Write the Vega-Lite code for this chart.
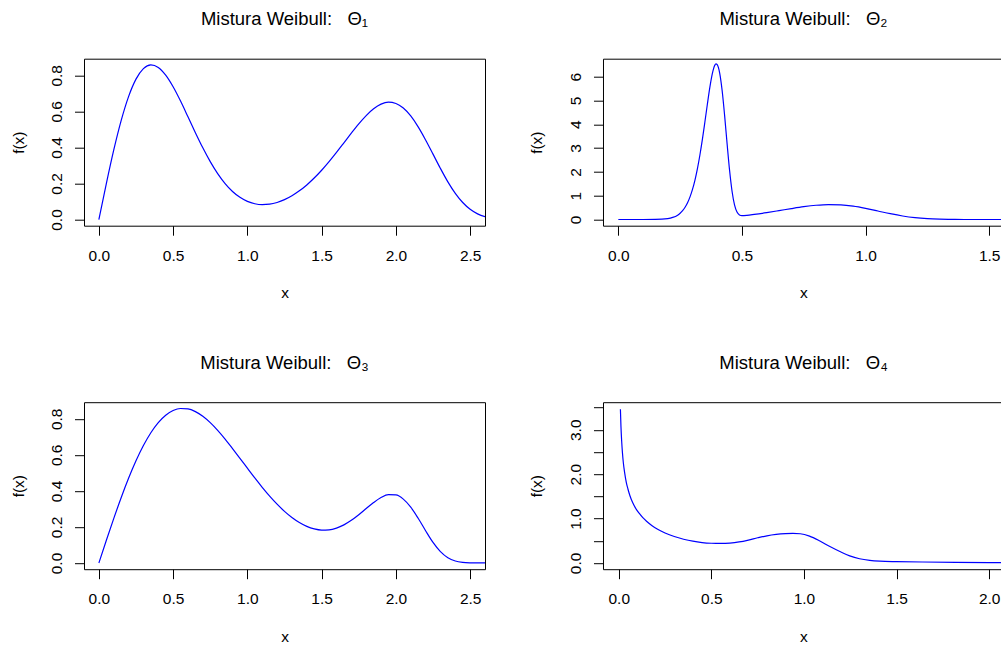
{
  "$schema": "https://vega.github.io/schema/vega-lite/v6.json",
  "background": "white",
  "padding": {"left": 10, "top": 9.7, "right": 0, "bottom": 0},
  "config": {
    "font": "Liberation Sans",
    "view": {"stroke": "#000000", "strokeWidth": 1},
    "axis": {
      "domain": false,
      "grid": false,
      "ticks": true,
      "tickSize": 9.5,
      "tickColor": "#000000",
      "tickWidth": 1,
      "labelFont": "Liberation Sans",
      "labelFontSize": 15.5,
      "labelColor": "#000000",
      "labelFlush": false,
      "labelOverlap": false,
      "titleFont": "Liberation Sans",
      "titleFontSize": 15.5,
      "titleFontWeight": "normal",
      "titleColor": "#000000"
    },
    "axisX": {
      "labelBaseline": "alphabetic",
      "labelPadding": 25,
      "titleBaseline": "alphabetic",
      "titleY": 72,
      "titleAlign": "center"
    },
    "axisY": {
      "labelAngle": -90,
      "labelAlign": "center",
      "labelBaseline": "alphabetic",
      "labelPadding": 13,
      "titleAngle": -90,
      "titleBaseline": "alphabetic",
      "titleAlign": "center",
      "titleX": -61,
      "titleY": 83.5
    },
    "title": {
      "font": "Liberation Sans",
      "fontSize": 18.5,
      "fontWeight": "normal",
      "color": "#000000",
      "anchor": "middle",
      "frame": "group",
      "baseline": "alphabetic",
      "offset": 29.8
    }
  },
  "datasets": {
    "p1": [
      {"x": 0, "y": 0}, {"x": 0.05, "y": 0.198}, {"x": 0.1, "y": 0.3843}, {"x": 0.15, "y": 0.5483},
      {"x": 0.2, "y": 0.6817}, {"x": 0.25, "y": 0.7788}, {"x": 0.3, "y": 0.8372}, {"x": 0.35, "y": 0.8577},
      {"x": 0.4, "y": 0.8437}, {"x": 0.45, "y": 0.8008}, {"x": 0.5, "y": 0.7362}, {"x": 0.55, "y": 0.6569},
      {"x": 0.6, "y": 0.5699}, {"x": 0.65, "y": 0.4818}, {"x": 0.7, "y": 0.3976}, {"x": 0.75, "y": 0.3211},
      {"x": 0.8, "y": 0.2546}, {"x": 0.85, "y": 0.1993}, {"x": 0.9, "y": 0.1555}, {"x": 0.95, "y": 0.1229},
      {"x": 1.0, "y": 0.1004}, {"x": 1.05, "y": 0.0873}, {"x": 1.1, "y": 0.0825}, {"x": 1.15, "y": 0.0851},
      {"x": 1.2, "y": 0.0945}, {"x": 1.25, "y": 0.1101}, {"x": 1.3, "y": 0.1317}, {"x": 1.35, "y": 0.159},
      {"x": 1.4, "y": 0.1918}, {"x": 1.45, "y": 0.23}, {"x": 1.5, "y": 0.2733}, {"x": 1.55, "y": 0.321},
      {"x": 1.6, "y": 0.3722}, {"x": 1.65, "y": 0.4254}, {"x": 1.7, "y": 0.479}, {"x": 1.75, "y": 0.5303},
      {"x": 1.8, "y": 0.5764}, {"x": 1.85, "y": 0.6141}, {"x": 1.9, "y": 0.6399}, {"x": 1.95, "y": 0.6506},
      {"x": 2.0, "y": 0.6438}, {"x": 2.05, "y": 0.6182}, {"x": 2.1, "y": 0.5743}, {"x": 2.15, "y": 0.514},
      {"x": 2.2, "y": 0.4415}, {"x": 2.25, "y": 0.3626}, {"x": 2.3, "y": 0.2832}, {"x": 2.35, "y": 0.209},
      {"x": 2.4, "y": 0.1453}, {"x": 2.45, "y": 0.0943}, {"x": 2.5, "y": 0.0567}, {"x": 2.55, "y": 0.0314},
      {"x": 2.6, "y": 0.0159}, {"x": 2.65, "y": 0.0073}
    ],
    "p2": [
      {"x": 0, "y": 0}, {"x": 0.05, "y": 0}, {"x": 0.1, "y": 0.0003}, {"x": 0.15, "y": 0.0039},
      {"x": 0.2, "y": 0.0383}, {"x": 0.22, "y": 0.0865}, {"x": 0.24, "y": 0.1837}, {"x": 0.25, "y": 0.2622},
      {"x": 0.26, "y": 0.3692}, {"x": 0.27, "y": 0.5129}, {"x": 0.28, "y": 0.702}, {"x": 0.29, "y": 0.9485},
      {"x": 0.3, "y": 1.2624}, {"x": 0.31, "y": 1.6547}, {"x": 0.32, "y": 2.1359}, {"x": 0.33, "y": 2.7081},
      {"x": 0.34, "y": 3.3625}, {"x": 0.35, "y": 4.0825}, {"x": 0.36, "y": 4.8259}, {"x": 0.37, "y": 5.5327},
      {"x": 0.38, "y": 6.1126}, {"x": 0.385, "y": 6.3259}, {"x": 0.39, "y": 6.4703}, {"x": 0.395, "y": 6.5317},
      {"x": 0.4, "y": 6.5018}, {"x": 0.405, "y": 6.3753}, {"x": 0.41, "y": 6.1473}, {"x": 0.42, "y": 5.4037},
      {"x": 0.43, "y": 4.3604}, {"x": 0.44, "y": 3.1771}, {"x": 0.45, "y": 2.0649}, {"x": 0.46, "y": 1.1872},
      {"x": 0.47, "y": 0.6145}, {"x": 0.48, "y": 0.3138}, {"x": 0.49, "y": 0.1935}, {"x": 0.5, "y": 0.1624},
      {"x": 0.52, "y": 0.1743}, {"x": 0.55, "y": 0.2135}, {"x": 0.6, "y": 0.2886}, {"x": 0.65, "y": 0.3726},
      {"x": 0.7, "y": 0.4588}, {"x": 0.75, "y": 0.5378}, {"x": 0.8, "y": 0.5974}, {"x": 0.85, "y": 0.6255},
      {"x": 0.9, "y": 0.6131}, {"x": 0.95, "y": 0.5581}, {"x": 1.0, "y": 0.4672}, {"x": 1.05, "y": 0.3557},
      {"x": 1.1, "y": 0.2432}, {"x": 1.15, "y": 0.1473}, {"x": 1.2, "y": 0.0779}, {"x": 1.25, "y": 0.0353},
      {"x": 1.3, "y": 0.0135}, {"x": 1.35, "y": 0.0042}, {"x": 1.4, "y": 0.0011}, {"x": 1.45, "y": 0.0002},
      {"x": 1.5, "y": 0}, {"x": 1.55, "y": 0}, {"x": 1.6, "y": 0}
    ],
    "p3": [
      {"x": 0, "y": 0}, {"x": 0.05, "y": 0.1245}, {"x": 0.1, "y": 0.2461}, {"x": 0.15, "y": 0.3621},
      {"x": 0.2, "y": 0.4697}, {"x": 0.25, "y": 0.5669}, {"x": 0.3, "y": 0.6516}, {"x": 0.35, "y": 0.7226},
      {"x": 0.4, "y": 0.7788}, {"x": 0.45, "y": 0.8199}, {"x": 0.5, "y": 0.8459}, {"x": 0.55, "y": 0.857},
      {"x": 0.6, "y": 0.8547}, {"x": 0.65, "y": 0.8398}, {"x": 0.7, "y": 0.8138}, {"x": 0.75, "y": 0.7785},
      {"x": 0.8, "y": 0.7358}, {"x": 0.85, "y": 0.6872}, {"x": 0.9, "y": 0.6347}, {"x": 0.95, "y": 0.5809},
      {"x": 1.0, "y": 0.5259}, {"x": 1.05, "y": 0.4718}, {"x": 1.1, "y": 0.4199}, {"x": 1.15, "y": 0.3709},
      {"x": 1.2, "y": 0.3263}, {"x": 1.25, "y": 0.2865}, {"x": 1.3, "y": 0.2523}, {"x": 1.35, "y": 0.2242},
      {"x": 1.4, "y": 0.2029}, {"x": 1.45, "y": 0.189}, {"x": 1.5, "y": 0.1825}, {"x": 1.55, "y": 0.1841},
      {"x": 1.6, "y": 0.1938}, {"x": 1.65, "y": 0.2116}, {"x": 1.7, "y": 0.2367}, {"x": 1.75, "y": 0.2677},
      {"x": 1.8, "y": 0.3019}, {"x": 1.85, "y": 0.3354}, {"x": 1.9, "y": 0.3632}, {"x": 1.95, "y": 0.3792},
      {"x": 2.0, "y": 0.3775}, {"x": 2.05, "y": 0.3544}, {"x": 2.1, "y": 0.3097}, {"x": 2.15, "y": 0.2481},
      {"x": 2.2, "y": 0.1792}, {"x": 2.25, "y": 0.1143}, {"x": 2.3, "y": 0.0631}, {"x": 2.35, "y": 0.0293},
      {"x": 2.4, "y": 0.0113}, {"x": 2.45, "y": 0.0036}, {"x": 2.5, "y": 0.001}, {"x": 2.55, "y": 0.0003},
      {"x": 2.6, "y": 0.0002}, {"x": 2.65, "y": 0.0001}
    ],
    "p4": [
      {"x": 0.009, "y": 3.46}, {"x": 0.012, "y": 3.07}, {"x": 0.016, "y": 2.73}, {"x": 0.02, "y": 2.48},
      {"x": 0.025, "y": 2.25}, {"x": 0.032, "y": 2.03}, {"x": 0.041, "y": 1.81}, {"x": 0.05, "y": 1.66},
      {"x": 0.06, "y": 1.52}, {"x": 0.075, "y": 1.36}, {"x": 0.09, "y": 1.24}, {"x": 0.11, "y": 1.12},
      {"x": 0.13, "y": 1.02}, {"x": 0.15, "y": 0.94}, {"x": 0.18, "y": 0.84}, {"x": 0.21, "y": 0.76},
      {"x": 0.25, "y": 0.676}, {"x": 0.3, "y": 0.595}, {"x": 0.35, "y": 0.535}, {"x": 0.4, "y": 0.49},
      {"x": 0.45, "y": 0.46}, {"x": 0.5, "y": 0.444}, {"x": 0.55, "y": 0.439}, {"x": 0.6, "y": 0.448},
      {"x": 0.65, "y": 0.474}, {"x": 0.7, "y": 0.516}, {"x": 0.75, "y": 0.567}, {"x": 0.8, "y": 0.612},
      {"x": 0.85, "y": 0.643}, {"x": 0.9, "y": 0.661}, {"x": 0.94, "y": 0.667}, {"x": 0.98, "y": 0.658},
      {"x": 1.03, "y": 0.605}, {"x": 1.086, "y": 0.495}, {"x": 1.14, "y": 0.37}, {"x": 1.194, "y": 0.258},
      {"x": 1.247, "y": 0.16}, {"x": 1.3, "y": 0.095}, {"x": 1.355, "y": 0.058}, {"x": 1.41, "y": 0.04},
      {"x": 1.5, "y": 0.03}, {"x": 1.64, "y": 0.022}, {"x": 1.82, "y": 0.015}, {"x": 2.0, "y": 0.01},
      {"x": 2.1, "y": 0.008}
    ]
  },
  "columns": 2,
  "spacing": {"row": 176.5, "column": 118},
  "bounds": "flush",
  "concat": [
    {
      "title": {"text": "Mistura Weibull:\u00a0\u00a0\u00a0Θ₁"},
      "width": 401, "height": 167,
      "data": {"name": "p1"},
      "mark": {"type": "line", "color": "#0000ff", "strokeWidth": 1.2, "clip": true, "interpolate": "monotone"},
      "encoding": {
        "x": {"field": "x", "type": "quantitative", "scale": {"domain": [-0.1, 2.6], "nice": false, "zero": false},
              "axis": {"title": "x", "values": [0, 0.5, 1, 1.5, 2, 2.5], "format": ".1f"}},
        "y": {"field": "y", "type": "quantitative", "scale": {"domain": [-0.0343, 0.892], "nice": false, "zero": false},
              "axis": {"title": "f(x)", "values": [0, 0.2, 0.4, 0.6, 0.8], "format": ".1f"}}
      }
    },
    {
      "title": {"text": "Mistura Weibull:\u00a0\u00a0\u00a0Θ₂"},
      "width": 401, "height": 167,
      "data": {"name": "p2"},
      "mark": {"type": "line", "color": "#0000ff", "strokeWidth": 1.2, "clip": true, "interpolate": "monotone"},
      "encoding": {
        "x": {"field": "x", "type": "quantitative", "scale": {"domain": [-0.062, 1.56], "nice": false, "zero": false},
              "axis": {"title": "x", "values": [0, 0.5, 1, 1.5], "format": ".1f"}},
        "y": {"field": "y", "type": "quantitative", "scale": {"domain": [-0.26, 6.75], "nice": false, "zero": false},
              "axis": {"title": "f(x)", "values": [0, 1, 2, 3, 4, 5, 6], "format": "d"}}
      }
    },
    {
      "title": {"text": "Mistura Weibull:\u00a0\u00a0\u00a0Θ₃"},
      "width": 401, "height": 167,
      "data": {"name": "p3"},
      "mark": {"type": "line", "color": "#0000ff", "strokeWidth": 1.2, "clip": true, "interpolate": "monotone"},
      "encoding": {
        "x": {"field": "x", "type": "quantitative", "scale": {"domain": [-0.1, 2.6], "nice": false, "zero": false},
              "axis": {"title": "x", "values": [0, 0.5, 1, 1.5, 2, 2.5], "format": ".1f"}},
        "y": {"field": "y", "type": "quantitative", "scale": {"domain": [-0.0343, 0.892], "nice": false, "zero": false},
              "axis": {"title": "f(x)", "values": [0, 0.2, 0.4, 0.6, 0.8], "format": ".1f"}}
      }
    },
    {
      "title": {"text": "Mistura Weibull:\u00a0\u00a0\u00a0Θ₄"},
      "width": 401, "height": 167,
      "data": {"name": "p4"},
      "mark": {"type": "line", "color": "#0000ff", "strokeWidth": 1.2, "clip": true, "interpolate": "monotone"},
      "encoding": {
        "x": {"field": "x", "type": "quantitative", "scale": {"domain": [-0.085, 2.08], "nice": false, "zero": false},
              "axis": {"title": "x", "values": [0, 0.5, 1, 1.5, 2], "format": ".1f"}},
        "y": {"field": "y", "type": "quantitative", "scale": {"domain": [-0.14, 3.62], "nice": false, "zero": false},
              "axis": {"title": "f(x)", "values": [0, 0.5, 1, 1.5, 2, 2.5, 3, 3.5],
                       "labelExpr": "datum.value % 1 === 0 ? format(datum.value, '.1f') : ''"}}
      }
    }
  ]
}
